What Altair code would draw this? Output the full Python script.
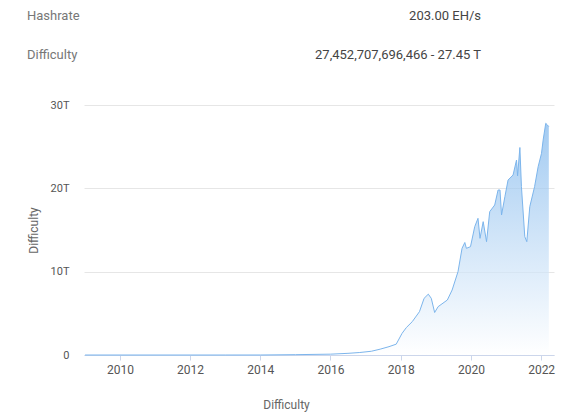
import altair as alt
import pandas as pd

dates = [
    "2009-01-03", "2010-01-01", "2011-01-01", "2012-01-01", "2013-01-01",
    "2014-01-01", "2015-01-01", "2016-01-01", "2016-07-01", "2016-11-01",
    "2017-03-01", "2017-06-01", "2017-09-01", "2017-11-15", "2018-01-15",
    "2018-03-01", "2018-05-01", "2018-07-15", "2018-09-01", "2018-10-15",
    "2018-11-15", "2018-12-20", "2019-01-25", "2019-05-01", "2019-06-20",
    "2019-08-20", "2019-10-01", "2019-10-30", "2019-11-15", "2019-12-28",
    "2020-02-10", "2020-03-15", "2020-04-05", "2020-05-08", "2020-06-12",
    "2020-07-15", "2020-09-05", "2020-10-10", "2020-10-30", "2020-11-15",
    "2020-12-20", "2021-01-22", "2021-03-15", "2021-04-20", "2021-05-01",
    "2021-05-25", "2021-06-10", "2021-07-15", "2021-08-05", "2021-09-05",
    "2021-10-25", "2021-12-01", "2022-01-05", "2022-01-22", "2022-02-18",
    "2022-03-08", "2022-03-22",
]
difficulty_t = [
    0.0, 0.0, 0.0, 0.000001, 0.000003,
    0.0014, 0.04, 0.1, 0.2, 0.3,
    0.45, 0.7, 1.0, 1.3, 2.6,
    3.3, 4.0, 5.2, 6.8, 7.3,
    6.8, 5.1, 5.8, 6.6, 7.8,
    10.0, 12.8, 13.5, 12.8, 13.0,
    15.4, 16.4, 14.0, 16.0, 13.6,
    17.2, 18.0, 19.8, 19.8, 16.8,
    19.0, 21.0, 21.6, 23.4, 21.5,
    24.9, 20.2, 14.2, 13.6, 17.8,
    20.2, 22.6, 24.2, 25.8, 27.8,
    27.6, 27.4,
]
y_ticks = [0, 10, 20, 30]
header_labels = ["Hashrate", "Difficulty"]
header_values = ["203.00 EH/s", "27,452,707,696,466 - 27.45 T"]

df = pd.DataFrame({"date": dates, "difficulty": difficulty_t})

FONT = "Roboto"
W, H = 470, 250

area = alt.Chart(df).mark_area(
    line={"color": "#7cb5ec", "strokeWidth": 1},
    color=alt.Gradient(
        gradient="linear",
        stops=[
            alt.GradientStop(color="#7cb5ec", offset=0),
            alt.GradientStop(color="#ffffff", offset=1),
        ],
        x1=1, x2=1, y1=0, y2=1,
    ),
    interpolate="linear",
).encode(
    x=alt.X(
        "date:T",
        scale=alt.Scale(domain=["2008-12-23", "2022-05-15"]),
        axis=alt.Axis(
            title="Difficulty",
            format="%Y",
            tickCount={"interval": "year", "step": 2},
            grid=False,
            domainColor="#ccd6eb",
            tickColor="#ccd6eb",
            tickSize=5,
            labelColor="#555555",
            labelFontSize=12,
            labelFont=FONT,
            labelPadding=4,
            titleFont=FONT,
            titleFontSize=12,
            titleFontWeight="normal",
            titleColor="#666666",
            titleX=202,
            titleY=49,
            titleAlign="center",
            titleBaseline="middle",
        ),
    ),
    y=alt.Y(
        "difficulty:Q",
        scale=alt.Scale(domain=[0, 30], nice=False),
        axis=alt.Axis(
            title="Difficulty",
            values=y_ticks,
            labelExpr="datum.value == 0 ? '0' : datum.value + 'T'",
            domain=False,
            ticks=False,
            gridColor="#e6e6e6",
            labelColor="#555555",
            labelFontSize=11,
            labelFont=FONT,
            labelPadding=15,
            titleFont=FONT,
            titleFontSize=12,
            titleFontWeight="normal",
            titleColor="#666666",
            titleX=-51,
            titleY=H / 2,
            titleAngle=270,
            titleAlign="center",
            titleBaseline="middle",
        ),
    ),
)

def header(text, x, y, align, color):
    return alt.Chart(pd.DataFrame({"t": [text]})).mark_text(
        align=align, baseline="middle", font=FONT, fontSize=13, color=color
    ).encode(text="t:N", x=alt.value(x), y=alt.value(y))

layers = [area]
layers.append(header(header_labels[0], -57, -89, "left", "#777777"))
layers.append(header(header_labels[1], -57, -50, "left", "#777777"))
layers.append(header(header_values[0], 397, -89, "right", "#444444"))
layers.append(header(header_values[1], 397, -50, "right", "#444444"))

chart = alt.layer(*layers).properties(
    width=W,
    height=H,
    autosize=alt.AutoSizeParams(type="none"),
    padding={"left": 76, "top": 97, "right": 11, "bottom": 59},
).configure_view(stroke=None)

chart.save("out.html", embed_options={"renderer": "svg", "actions": False})
